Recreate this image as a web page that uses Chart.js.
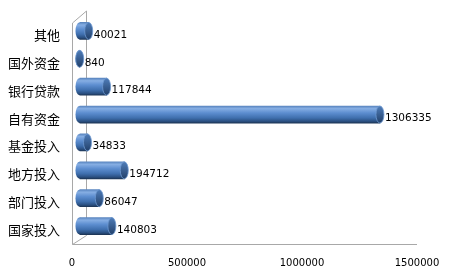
<!DOCTYPE html>
<html>
<head>
<meta charset="utf-8">
<script src="https://cdn.jsdelivr.net/npm/chart.js@4.4.1/dist/chart.umd.min.js"></script>
<style>
html,body{margin:0;padding:0;background:#fff;}
#wrap{width:468px;height:273px;position:relative;}
</style>
</head>
<body>
<div id="wrap"><canvas id="c" width="468" height="273"></canvas></div>
<script>
const categories = ['其他','国外资金','银行贷款','自有资金','基金投入','地方投入','部门投入','国家投入'];
const values = [40021, 840, 117844, 1306335, 34833, 194712, 86047, 140803];
const xTicks = [0, 500000, 1000000, 1500000];

const DX = 7.5, DY = -4, BAR_H = 17;

function barGradient(ctx, yc, h) {
  const g = ctx.createLinearGradient(0, yc - h / 2, 0, yc + h / 2);
  g.addColorStop(0, '#5a86c0');
  g.addColorStop(0.15, '#86aee3');
  g.addColorStop(0.4, '#5d8ed0');
  g.addColorStop(0.7, '#3f6fae');
  g.addColorStop(0.9, '#2a4f80');
  g.addColorStop(1, '#1d3657');
  return g;
}

const cylinderPlugin = {
  id: 'cyl',
  beforeDraw(chart) {
    const ctx = chart.ctx, a = chart.chartArea;
    ctx.save();
    ctx.strokeStyle = '#a8a8a8';
    ctx.lineWidth = 1;
    ctx.beginPath();
    const L = Math.round(a.left) + 0.5, B = Math.round(a.bottom) + 0.5, T = Math.round(a.top);
    ctx.moveTo(L, B); ctx.lineTo(L, T + 2);
    ctx.lineTo(L + 14, T - 10);
    ctx.lineTo(L + 14, B - 9);
    ctx.lineTo(L, B);
    ctx.moveTo(L, B); ctx.lineTo(a.right, B);
    ctx.stroke();
    ctx.restore();
  },
  beforeDatasetsDraw(chart) {
    const ctx = chart.ctx;
    ctx.save();
    ctx.translate(DX, DY);
    const meta = chart.getDatasetMeta(0);
    meta.data.forEach(el => {
      const h = el.height;
      ctx.beginPath();
      ctx.ellipse(el.base, el.y, 4, h / 2, 0, 0, Math.PI * 2);
      ctx.fillStyle = barGradient(ctx, el.y, h);
      ctx.fill();
    });
  },
  afterDatasetsDraw(chart) {
    const ctx = chart.ctx;
    const meta = chart.getDatasetMeta(0);
    meta.data.forEach(el => {
      const h = el.height;
      const g = ctx.createLinearGradient(0, el.y - h / 2, 0, el.y + h / 2);
      g.addColorStop(0, '#4f7db9');
      g.addColorStop(1, '#22406a');
      ctx.beginPath();
      ctx.ellipse(el.x, el.y, 4, h / 2, 0, 0, Math.PI * 2);
      ctx.fillStyle = g;
      ctx.fill();
      ctx.lineWidth = 0.8;
      ctx.strokeStyle = '#6f99d0';
      ctx.stroke();
    });
    ctx.restore();
    ctx.save();
    ctx.fillStyle = '#000';
    ctx.font = '10.5px "DejaVu Sans"';
    ctx.textAlign = 'left';
    ctx.textBaseline = 'middle';
    meta.data.forEach((el, i) => {
      ctx.fillText(String(values[i]), el.x + DX + 5, el.y);
    });
    ctx.restore();
  }
};

new Chart(document.getElementById('c'), {
  type: 'bar',
  data: {
    labels: categories,
    datasets: [{
      data: values,
      barThickness: BAR_H,
      borderWidth: 0,
      backgroundColor: (c) => {
        const chart = c.chart;
        if (!chart.scales || !chart.scales.y || c.dataIndex === undefined) return '#4f81bd';
        const yc = chart.scales.y.getPixelForValue(c.dataIndex);
        if (!isFinite(yc)) return '#4f81bd';
        return barGradient(chart.ctx, yc, BAR_H);
      }
    }]
  },
  options: {
    indexAxis: 'y',
    responsive: false,
    animation: false,
    events: [],
    layout: { padding: { top: 21, right: 51, left: 0, bottom: 0 } },
    plugins: { legend: { display: false }, tooltip: { enabled: false } },
    scales: {
      x: {
        min: 0, max: 1500000,
        afterBuildTicks: (s) => { s.ticks = xTicks.map(v => ({ value: v })); },
        afterFit: (s) => { s.height = 29; },
        grid: { display: false, drawTicks: false },
        border: { display: false },
        ticks: {
          padding: 13,
          maxRotation: 0,
          autoSkip: false,
          color: '#000',
          font: { family: 'DejaVu Sans', size: 10 },
          callback: (v) => String(v)
        }
      },
      y: {
        afterFit: (s) => { s.width = 72; },
        grid: { display: false, drawTicks: false },
        border: { display: false },
        ticks: {
          padding: 12,
          color: '#000',
          font: { family: 'Noto Sans CJK SC', size: 13 }
        }
      }
    }
  },
  plugins: [cylinderPlugin]
});
</script>
</body>
</html>
